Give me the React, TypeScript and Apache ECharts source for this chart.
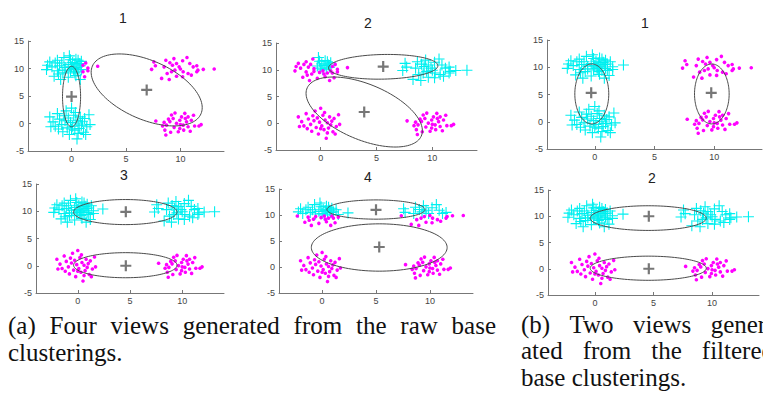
import React, { useEffect, useRef } from 'react';
import * as echarts from 'echarts';

// ---- data: four point clouds, split into sub-groups whose labels differ between views ----
const A_HI_W = [[-2.2,10.6],[-1.8,10.3],[-1.5,11.0],[-1.1,10.5],[-0.9,11.0],[-0.6,10.2],[-1.3,11.5],[-0.7,12.0],[-2.0,11.2]];
const A_HI_C = [[-0.3,10.7],[-0.2,12.3],[0.0,10.3],[0.1,11.1],[0.3,10.8],[0.4,11.7],[0.5,10.2],[0.7,10.9],[0.8,10.5],[0.9,11.3],[0.2,10.0],[0.6,11.5],[-0.1,11.6]];
const A_LO_W = [[-1.3,9.6],[-0.8,9.2],[-1.6,8.6],[-1.0,8.0],[-2.3,9.8],[-0.6,9.7],[-1.2,9.0]];
const A_LO_C = [[-0.1,9.5],[0.2,9.8],[0.6,9.4],[0.9,9.8],[0.4,8.7],[-0.3,8.4],[0.8,8.0],[0.3,9.2]];
const A_EDGE_HI = [[1.05,10.6],[1.5,10.1],[2.4,10.4],[1.3,11.0]];
const A_EDGE_LO = [[1.05,9.4],[1.2,8.5],[1.5,9.6]];
const B_PTS = [[-2.0,1.2],[-1.7,0.3],[-1.5,-0.5],[-1.3,1.8],[-1.1,0.8],[-0.9,-0.2],[-0.8,-1.5],[-0.6,0.5],[-0.5,2.3],[-0.4,-0.8],[-0.3,1.0],[-0.2,-2.0],[-0.1,0.2],[0.0,2.8],[0.1,-0.5],[0.2,1.5],[0.3,-1.2],[0.4,0.6],[0.5,-2.8],[0.6,0.1],[0.7,-0.9],[0.8,1.2],[0.9,-0.3],[1.0,0.4],[1.1,-1.6],[1.2,0.9],[1.4,-0.6],[1.6,1.6],[1.7,-0.2],[-1.2,-1.0],[0.0,-1.0],[-0.7,1.4],[0.35,2.0],[1.3,-2.0],[-1.9,-0.6],[0.6,-1.8]];
const C_HI = [[7.56,11.2],[8.66,11.5],[8.5,10.3],[9.03,11.05],[9.27,10.6],[9.64,10.9],[9.88,10.3],[10.6,12.0],[10.86,10.9],[11.17,10.3],[7.7,10.5],[10.2,11.4],[11.5,10.5],[9.4,11.8]];
const C_LO = [[7.35,9.85],[9.49,9.7],[10.25,9.4],[10.7,9.1],[11.6,9.7],[12.1,9.85],[13.1,9.9],[8.27,8.2],[8.97,8.0],[9.64,8.6],[10.2,8.5],[9.18,9.4],[8.78,9.1],[11.5,9.4],[11.0,8.8],[10.0,9.9]];
const D_PTS = [[7.74,0.45],[8.36,-0.45],[8.57,-1.2],[8.72,-0.3],[9.18,1.55],[9.33,0.9],[9.03,0.35],[9.64,0.03],[9.94,0.6],[10.1,1.2],[10.4,1.85],[10.25,-0.3],[10.56,0.3],[10.7,-0.6],[11.0,0.6],[11.3,-0.45],[11.7,-0.45],[9.8,-1.5],[10.3,-1.2],[8.66,-2.1],[9.42,-0.7],[10.7,1.2],[9.94,-0.9],[8.9,0.8],[9.5,1.9],[10.9,-1.4],[11.9,-0.2],[9.1,-1.6],[10.45,0.9],[8.5,0.2],[10.0,-0.2],[11.2,1.5]];

// which groups are cyan (+) / magenta (dots) in each view
const VIEW_CYAN = [
  [A_HI_W, A_HI_C, A_LO_W, A_LO_C, B_PTS],
  [A_HI_C, C_HI, C_LO],
  [A_HI_W, A_HI_C, A_LO_W, A_LO_C, A_EDGE_HI, A_EDGE_LO, B_PTS],
  [A_HI_W, A_HI_C, A_LO_W, A_LO_C, A_EDGE_HI, A_EDGE_LO, C_HI, C_LO],
  [A_HI_W, A_HI_C, A_EDGE_HI, C_HI],
  [A_HI_W, A_HI_C, A_LO_W, A_LO_C, A_EDGE_HI, A_EDGE_LO, C_HI, C_LO],
];
const VIEW_MAGENTA = [
  [A_EDGE_HI, A_EDGE_LO, C_HI, C_LO, D_PTS],
  [A_HI_W, A_LO_W, A_LO_C, A_EDGE_HI, A_EDGE_LO, B_PTS, D_PTS],
  [C_HI, C_LO, D_PTS],
  [B_PTS, D_PTS],
  [A_LO_W, A_LO_C, A_EDGE_LO, C_LO, B_PTS, D_PTS],
  [B_PTS, D_PTS],
];
// cluster centres (dark +)
const VIEW_CENTERS = [
  [[0, 4.9], [6.9, 6.1]],
  [[5.6, 10.6], [3.9, 2.1]],
  [[-0.3, 5.3], [9.75, 5.3]],
  [[4.6, 9.9], [4.6, 0]],
  [[5.0, 11.0], [5.3, 3.85]],
  [[4.6, 10.0], [4.6, 0]],
];
// ellipses: [cx, cy, semi-axis a, semi-axis b, angle of a in degrees]
const VIEW_ELLIPSES = [
  [[0, 4.9, 5.5, 0.83, 90], [6.9, 6.1, 7.27, 4.0, -58.6]],
  [[5.6, 10.55, 4.9, 2.3, 3], [3.9, 2.1, 7.4, 3.9, -56.7]],
  [[-0.25, 5.1, 5.5, 1.42, 90], [9.8, 5.1, 5.5, 1.45, 90]],
  [[4.55, 9.85, 4.95, 2.3, 0], [4.55, 0.1, 4.95, 2.3, 0]],
  [[5.0, 11.05, 4.55, 1.85, 0], [5.3, 3.75, 6.3, 4.55, 0]],
  [[4.55, 9.65, 4.95, 2.35, 0], [4.55, 0.1, 4.95, 2.3, 0]],
];
const VIEW_TITLES = ['1', '2', '1', '3', '4', '2'];
const X_TICKS = [0, 5, 10];
const X_MIN = -4, X_MAX = 14, Y_MIN = -5, Y_MAX = 15, Y_STEP = 5;

// caption lines: words, left edge, right edge, baseline, justified?
const CAPTION_LINES: { words: string[]; left: number; right: number; base: number; justify: boolean }[] = [
  { words: ['(a)', 'Four', 'views', 'generated', 'from', 'the', 'raw', 'base'], left: 8, right: 496, base: 334, justify: true },
  { words: ['clusterings.'], left: 8, right: 496, base: 361, justify: false },
  { words: ['(b)', 'Two', 'views', 'gener-'], left: 521, right: 774, base: 333, justify: true },
  { words: ['ated', 'from', 'the', 'filtered'], left: 521, right: 774, base: 359, justify: true },
  { words: ['base', 'clusterings.'], left: 521, right: 774, base: 386, justify: false },
];

// layout
const GRIDS = [
  { left: 28, top: 41, width: 196, height: 110 },
  { left: 276, top: 43, width: 201, height: 107 },
  { left: 547, top: 40, width: 215, height: 109 },
  { left: 36, top: 184, width: 188, height: 109 },
  { left: 279, top: 189, width: 194, height: 104 },
  { left: 548, top: 190, width: 211, height: 105 },
];
const TITLE_POS = [[123, 18], [368, 23], [645, 23], [124, 175], [368, 177], [652, 178]];

const CYAN_PLUS = 'path://M0,4.5H10V5.5H0ZM4.5,0H5.5V10H4.5Z';
const DARK_PLUS = 'path://M0,4H10V6H0ZM4,0H6V10H4Z';
const CAPTION_FONT_SIZE = 25;
const CAPTION_FONT = 'Liberation Serif';

export default function App() {
  const ref = useRef<HTMLDivElement>(null);
  useEffect(() => {
    if (!ref.current) return;
    const chart = echarts.init(ref.current, null, { renderer: 'svg' });
    const axisColor = '#777';
    const labelStyle = { color: '#444', fontSize: 9, fontFamily: 'Liberation Sans, Arial, sans-serif' };
    const xAxis: any[] = [];
    const yAxis: any[] = [];
    const series: any[] = [];
    GRIDS.forEach((g, i) => {
      xAxis.push({
        type: 'value', gridIndex: i, min: X_MIN, max: X_MAX,
        axisLine: { show: true, onZero: false, lineStyle: { color: axisColor, width: 1 } },
        axisTick: { show: true, inside: true, length: 3, customValues: X_TICKS, lineStyle: { color: axisColor } },
        axisLabel: { ...labelStyle, margin: 3, customValues: X_TICKS },
        splitLine: { show: false },
      });
      yAxis.push({
        type: 'value', gridIndex: i, min: Y_MIN, max: Y_MAX, interval: Y_STEP,
        axisLine: { show: true, onZero: false, lineStyle: { color: axisColor, width: 1 } },
        axisTick: { show: true, inside: true, length: 3, lineStyle: { color: axisColor } },
        axisLabel: { ...labelStyle, margin: 4 },
        splitLine: { show: false },
      });
      series.push({
        type: 'scatter', xAxisIndex: i, yAxisIndex: i, z: 2,
        symbol: CYAN_PLUS, symbolSize: 11,
        itemStyle: { color: '#00F0F0', opacity: 1 },
        data: ([] as number[][]).concat(...VIEW_CYAN[i]),
        silent: true,
      });
      series.push({
        type: 'scatter', xAxisIndex: i, yAxisIndex: i, z: 3,
        symbol: 'circle', symbolSize: 3.6,
        itemStyle: { color: '#FF00FF', opacity: 1 },
        data: ([] as number[][]).concat(...VIEW_MAGENTA[i]),
        silent: true,
      });
      series.push({
        type: 'custom', xAxisIndex: i, yAxisIndex: i, z: 4, silent: true,
        encode: { x: 0, y: 1 },
        data: VIEW_ELLIPSES[i],
        renderItem: (params: any, api: any) => {
          const cx = api.value(0), cy = api.value(1), a = api.value(2), b = api.value(3);
          const ang = (api.value(4) * Math.PI) / 180;
          const pts: number[][] = [];
          const n = 120;
          for (let k = 0; k <= n; k++) {
            const t = (k / n) * Math.PI * 2;
            const ex = a * Math.cos(t), ey = b * Math.sin(t);
            pts.push(api.coord([cx + ex * Math.cos(ang) - ey * Math.sin(ang), cy + ex * Math.sin(ang) + ey * Math.cos(ang)]));
          }
          return { type: 'polyline', shape: { points: pts }, style: { stroke: '#4a4a4a', lineWidth: 1, fill: null } };
        },
      });
      series.push({
        type: 'scatter', xAxisIndex: i, yAxisIndex: i, z: 5,
        symbol: DARK_PLUS, symbolSize: 11,
        itemStyle: { color: '#555555' },
        data: VIEW_CENTERS[i],
        silent: true,
      });
    });
    const graphic: any[] = [];
    TITLE_POS.forEach((p, i) => {
      graphic.push({
        type: 'text', x: p[0], y: p[1],
        style: { text: VIEW_TITLES[i], fill: '#222', fontSize: 14, fontFamily: 'Liberation Sans, Arial, sans-serif', align: 'center', verticalAlign: 'middle' },
      });
    });
    // justified caption: measure word widths, spread gaps evenly
    const ctx = document.createElement('canvas').getContext('2d');
    const fontStr = `${CAPTION_FONT_SIZE}px "${CAPTION_FONT}"`;
    const measure = (s: string) => {
      if (ctx) { ctx.font = fontStr; return ctx.measureText(s).width; }
      return s.length * CAPTION_FONT_SIZE * 0.45;
    };
    const naturalGap = measure(' ');
    CAPTION_LINES.forEach((line) => {
      const widths = line.words.map(measure);
      const total = widths.reduce((s, w) => s + w, 0);
      const gap = line.justify && line.words.length > 1 ? (line.right - line.left - total) / (line.words.length - 1) : naturalGap;
      let x = line.left;
      line.words.forEach((w, k) => {
        graphic.push({
          type: 'text', x, y: line.base - 0.34 * CAPTION_FONT_SIZE,
          style: { text: w, fill: '#111', fontSize: CAPTION_FONT_SIZE, fontFamily: `${CAPTION_FONT}, Times New Roman, serif`, align: 'left', verticalAlign: 'middle' },
        });
        x += widths[k] + gap;
      });
    });
    chart.setOption({
      animation: false,
      backgroundColor: '#ffffff',
      grid: GRIDS.map((g) => ({ ...g, containLabel: false })),
      xAxis, yAxis, series, graphic,
    });
    return () => chart.dispose();
  }, []);
  return <div ref={ref} style={{ position: 'absolute', left: 0, top: 0, width: 763, height: 394, background: '#fff' }} />;
}
